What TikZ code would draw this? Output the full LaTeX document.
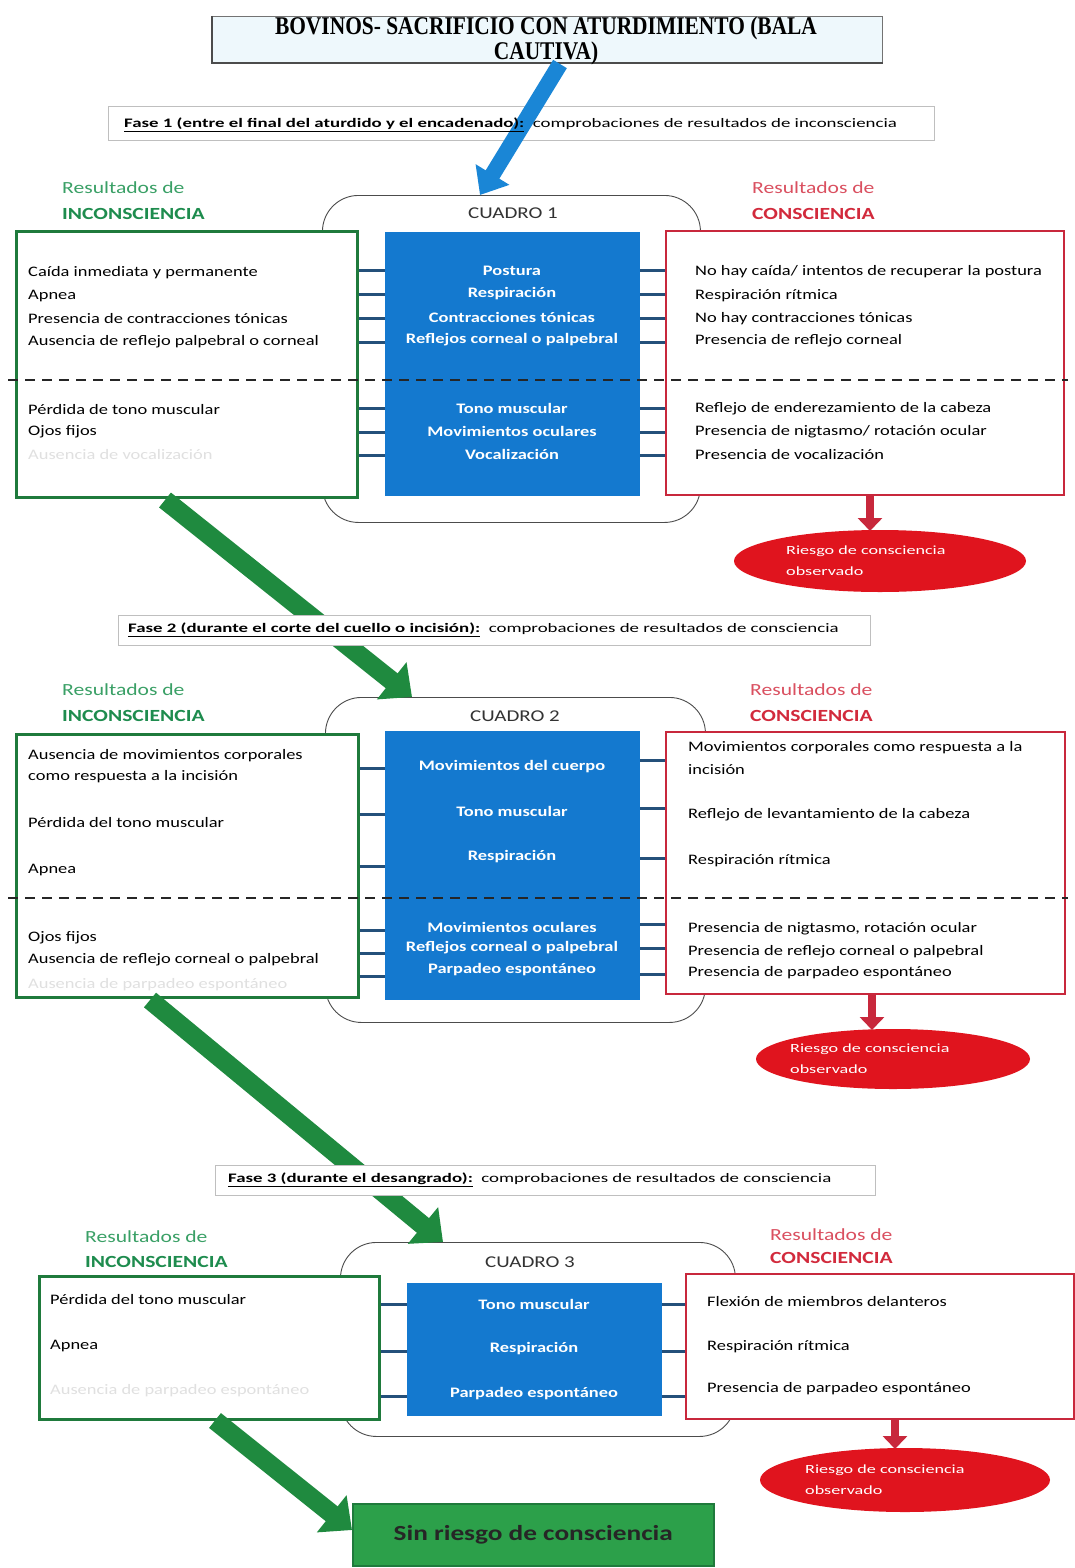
\documentclass[tikz,border=0pt]{standalone}
\usepackage{fontspec}
\setmainfont{Carlito}
\newfontfamily\wa[FakeStretch=1.27]{Carlito}
\newfontfamily\wb[FakeStretch=1.45]{Carlito}
\newfontfamily\titlefont[FakeStretch=0.84]{Liberation Serif}
\usetikzlibrary{arrows.meta,shapes.geometric,calc}
\definecolor{gbord}{HTML}{1F7A3C}
\definecolor{gtext}{HTML}{1E8C4E}
\definecolor{gtextl}{HTML}{3AA066}
\definecolor{rbord}{HTML}{C8283C}
\definecolor{rtext}{HTML}{D22A3C}
\definecolor{rtextl}{HTML}{DA5060}
\definecolor{bluebox}{HTML}{1479CF}
\definecolor{barblue}{HTML}{24507A}
\definecolor{ellred}{HTML}{E0141E}
\definecolor{garrowc}{HTML}{1F8A3F}
\definecolor{barrowc}{HTML}{1A86D6}
\definecolor{finalg}{HTML}{2CA04A}
\definecolor{titlefill}{HTML}{EEF8FC}
\begin{document}
\begin{tikzpicture}[x=1pt,y=-1pt,
  gbox/.style={draw=gbord,line width=2.5pt,fill=white,anchor=north west,inner sep=0pt},
  rbox/.style={draw=rbord,line width=2pt,fill=white,anchor=north west,inner sep=0pt},
  bbox/.style={fill=bluebox,draw=none,anchor=north west,inner sep=0pt},
  cont/.style={draw=black!70,line width=0.9pt,rounded corners=36pt,anchor=north west,inner sep=0pt},
  txt/.style={anchor=west,inner sep=0pt,font=\wa\fontsize{14.5}{16}\selectfont},
  ftxt/.style={txt,text=black!12},
  wtxt/.style={anchor=center,inner sep=0pt,text=white,font=\wa\bfseries\fontsize{14.5}{16}\selectfont},
  bar/.style={draw=barblue,line width=3pt},
  dline/.style={draw=black!85,dash pattern=on 10pt off 7pt,line width=1.8pt},
  garrow/.style={draw=garrowc,line width=19pt,-{Triangle[length=26pt,width=46pt]}},
  barrow/.style={draw=barrowc,line width=16pt,-{Triangle[length=24pt,width=38pt]}},
  rarrow/.style={draw=rbord,line width=8pt,-{Triangle[length=13pt,width=24pt]}},
  fasebox/.style={draw=black!25,line width=1pt,fill=white,anchor=north west,inner sep=0pt},
  fasetxt/.style={anchor=west,inner sep=0pt,font=\wb\fontsize{13}{15}\selectfont},
  hd/.style={anchor=west,inner sep=0pt,align=left,font=\wa\fontsize{17}{20}\selectfont},
  hdb/.style={anchor=west,inner sep=0pt,align=left,font=\wa\bfseries\fontsize{17}{20}\selectfont},
  ell/.style={ellipse,fill=ellred,draw=none,inner sep=0pt},
  elltxt/.style={anchor=west,inner sep=0pt,text=white,align=left,font=\wb\fontsize{12.5}{21}\selectfont},
  cuad/.style={anchor=center,inner sep=0pt,font=\wa\fontsize{16.5}{18}\selectfont,text=black!80}
]
\useasboundingbox (0,0) rectangle (1074,1568);
\fill[white] (0,0) rectangle (1074,1568);

% ---------- title ----------
\node[draw=black!55,line width=1pt,fill=titlefill,anchor=north west,minimum width=670pt,minimum height=46pt,inner sep=0pt] (title) at (212,16) {};
\draw[black!70,line width=2.5pt] (title.north west) -- (title.south west) -- (title.south east);
\node[anchor=center,inner sep=0pt,align=center,font=\titlefont\bfseries\fontsize{25.5}{25}\selectfont] (titletxt) at (546,41) {BOVINOS- SACRIFICIO CON ATURDIMIENTO (BALA\\CAUTIVA)};

% ---------- fase 1 ----------
\node[fasebox,minimum width=826pt,minimum height=34pt] (f1) at (108,106) {};

% ---------- cuadro 1 ----------
\node[cont,minimum width=378pt,minimum height=327pt] (c1) at (322,195) {};
\node[cuad] (c1t) at (513,213) {CUADRO 1};
\draw[barrow] (560,64) -- (c1.north -| 480,0);
\node[fasetxt] (f1t) at (124,125) {\textbf{\underline{Fase 1 (entre el final del aturdido y el encadenado):}}\ \ comprobaciones de resultados de inconsciencia};

\node[hd,text=gtextl] (h1a) at (62,188) {Resultados de};
\node[hdb,text=gtext] (h1b) at (62,214) {INCONSCIENCIA};
\node[hd,text=rtextl] (h1c) at (752,188) {Resultados de};
\node[hdb,text=rtext] (h1d) at (752,214) {CONSCIENCIA};

\node[gbox,minimum width=341pt,minimum height=266pt] (l1) at (15,230) {};
\node[bbox,minimum width=255pt,minimum height=264pt] (b1) at (385,232) {};
\node[rbox,minimum width=398pt,minimum height=264pt] (r1) at (665,230) {};
\draw[dline] (8,380) -- (1068,380);

\foreach \y in {270,294,318,342,408,432,455} {
  \draw[bar] (l1.east |- 0,\y) -- (b1.west |- 0,\y);
  \draw[bar] (b1.east |- 0,\y) -- (r1.west |- 0,\y);
}

\node[txt] (l1a) at (28,273) {Caída inmediata y permanente};
\node[txt] (l1b) at (28,296) {Apnea};
\node[txt] (l1c) at (28,319) {Presencia de contracciones tónicas};
\node[txt] (l1d) at (28,342) {Ausencia de reflejo palpebral o corneal};
\node[txt] (l1e) at (28,410) {Pérdida de tono muscular};
\node[txt] (l1f) at (28,432) {Ojos fijos};
\node[ftxt] (l1g) at (28,455) {Ausencia de vocalización};

\node[wtxt] (b1a) at (512,271) {Postura};
\node[wtxt] (b1b) at (512,294) {Respiración};
\node[wtxt] (b1c) at (512,317) {Contracciones tónicas};
\node[wtxt] (b1d) at (512,340) {Reflejos corneal o palpebral};
\node[wtxt] (b1e) at (512,408) {Tono muscular};
\node[wtxt] (b1f) at (512,431) {Movimientos oculares};
\node[wtxt] (b1g) at (512,454) {Vocalización};

\node[txt] (r1a) at (695,272) {No hay caída/ intentos de recuperar la postura};
\node[txt] (r1b) at (695,296) {Respiración rítmica};
\node[txt] (r1c) at (695,319) {No hay contracciones tónicas};
\node[txt] (r1d) at (695,341) {Presencia de reflejo corneal};
\node[txt] (r1e) at (695,409) {Reflejo de enderezamiento de la cabeza};
\node[txt] (r1f) at (695,432) {Presencia de nigtasmo/ rotación ocular};
\node[txt] (r1g) at (695,455) {Presencia de vocalización};

\node[ell,minimum width=292pt,minimum height=62pt] (e1) at (880,561) {};
\node[elltxt] (e1t) at (786,561) {Riesgo de consciencia\\observado};
\draw[rarrow] (r1.south -| 870,0) -- (870,531);

% ---------- arrow to cuadro 2 and fase 2 ----------
\node[cont,minimum width=380pt,minimum height=325pt] (c2) at (325,697) {};
\draw[garrow] (165,500) -- (c2.north -| 412,0);
\node[fasebox,minimum width=752pt,minimum height=30pt] (f2) at (118,615) {};
\node[fasetxt] (f2t) at (128,630) {\textbf{\underline{Fase 2 (durante el corte del cuello o incisión):}}\ \ comprobaciones de resultados de consciencia};

% ---------- cuadro 2 ----------
\node[cuad] (c2t) at (515,716) {CUADRO 2};
\node[hd,text=gtextl] (h2a) at (62,690) {Resultados de};
\node[hdb,text=gtext] (h2b) at (62,716) {INCONSCIENCIA};
\node[hd,text=rtextl] (h2c) at (750,690) {Resultados de};
\node[hdb,text=rtext] (h2d) at (750,716) {CONSCIENCIA};

\node[gbox,minimum width=342pt,minimum height=263pt] (l2) at (15,733) {};
\node[bbox,minimum width=255pt,minimum height=269pt] (b2) at (385,731) {};
\node[rbox,minimum width=399pt,minimum height=262pt] (r2) at (665,731) {};
\draw[dline] (8,898) -- (1068,898);

\foreach \y in {768,814,866,930,953,976} {
  \draw[bar] (l2.east |- 0,\y) -- (b2.west |- 0,\y);
}
\foreach \y in {760,808,858,924,948,974} {
  \draw[bar] (b2.east |- 0,\y) -- (r2.west |- 0,\y);
}

\node[txt] (l2a) at (28,756) {Ausencia de movimientos corporales};
\node[txt] (l2b) at (28,777) {como respuesta a la incisión};
\node[txt] (l2c) at (28,823) {Pérdida del tono muscular};
\node[txt] (l2d) at (28,870) {Apnea};
\node[txt] (l2e) at (28,938) {Ojos fijos};
\node[txt] (l2f) at (28,960) {Ausencia de reflejo corneal o palpebral};
\node[ftxt] (l2g) at (28,985) {Ausencia de parpadeo espontáneo};

\node[wtxt] (b2a) at (512,767) {Movimientos del cuerpo};
\node[wtxt] (b2b) at (512,811) {Tono muscular};
\node[wtxt] (b2c) at (512,857) {Respiración};
\node[wtxt] (b2d) at (512,927) {Movimientos oculares};
\node[wtxt] (b2e) at (512,948) {Reflejos corneal o palpebral};
\node[wtxt] (b2f) at (512,970) {Parpadeo espontáneo};

\node[txt] (r2a) at (688,748) {Movimientos corporales como respuesta a la};
\node[txt] (r2b) at (688,770) {incisión};
\node[txt] (r2c) at (688,815) {Reflejo de levantamiento de la cabeza};
\node[txt] (r2d) at (688,861) {Respiración rítmica};
\node[txt] (r2e) at (688,929) {Presencia de nigtasmo, rotación ocular};
\node[txt] (r2f) at (688,952) {Presencia de reflejo corneal o palpebral};
\node[txt] (r2g) at (688,973) {Presencia de parpadeo espontáneo};

\node[ell,minimum width=274pt,minimum height=60pt] (e2) at (893,1059) {};
\node[elltxt] (e2t) at (790,1059) {Riesgo de consciencia\\observado};
\draw[rarrow] (r2.south -| 872,0) -- (872,1030);

% ---------- arrow to cuadro 3 and fase 3 ----------
\node[cont,minimum width=395pt,minimum height=194pt] (c3) at (340,1242) {};
\draw[garrow] (150,1000) -- (c3.north -| 443,0);
\node[fasebox,minimum width=660pt,minimum height=30pt] (f3) at (215,1165) {};
\node[fasetxt] (f3t) at (228,1180) {\textbf{\underline{Fase 3 (durante el desangrado):}}\ \ comprobaciones de resultados de consciencia};

% ---------- cuadro 3 ----------
\node[cuad] (c3t) at (530,1262) {CUADRO 3};
\node[hd,text=gtextl] (h3a) at (85,1237) {Resultados de};
\node[hdb,text=gtext] (h3b) at (85,1262) {INCONSCIENCIA};
\node[hd,text=rtextl] (h3c) at (770,1235) {Resultados de};
\node[hdb,text=rtext] (h3d) at (770,1258) {CONSCIENCIA};

\node[gbox,minimum width=340pt,minimum height=143pt] (l3) at (38,1275) {};
\node[bbox,minimum width=255pt,minimum height=133pt] (b3) at (407,1283) {};
\node[rbox,minimum width=388pt,minimum height=145pt] (r3) at (685,1273) {};

\foreach \y in {1304,1351,1396} {
  \draw[bar] (l3.east |- 0,\y) -- (b3.west |- 0,\y);
  \draw[bar] (b3.east |- 0,\y) -- (r3.west |- 0,\y);
}

\node[txt] (l3a) at (50,1300) {Pérdida del tono muscular};
\node[txt] (l3b) at (50,1346) {Apnea};
\node[ftxt] (l3c) at (50,1391) {Ausencia de parpadeo espontáneo};

\node[wtxt] (b3a) at (534,1304) {Tono muscular};
\node[wtxt] (b3b) at (534,1349) {Respiración};
\node[wtxt] (b3c) at (534,1394) {Parpadeo espontáneo};

\node[txt] (r3a) at (707,1302) {Flexión de miembros delanteros};
\node[txt] (r3b) at (707,1347) {Respiración rítmica};
\node[txt] (r3c) at (707,1389) {Presencia de parpadeo espontáneo};

\node[ell,minimum width=290pt,minimum height=64pt] (e3) at (905,1480) {};
\node[elltxt] (e3t) at (805,1480) {Riesgo de consciencia\\observado};
\draw[rarrow] (r3.south -| 895,0) -- (895,1449);

% ---------- final ----------
\node[draw=gbord,line width=1.5pt,fill=finalg,anchor=north west,minimum width=361pt,minimum height=62pt,inner sep=0pt,font=\wa\bfseries\fontsize{21.5}{23}\selectfont,text=black!85] (fin) at (352,1503) {Sin riesgo de consciencia};
\draw[garrow] (l3.south -| 215,0) -- (fin.west |- 0,1530);
\end{tikzpicture}
\end{document}
